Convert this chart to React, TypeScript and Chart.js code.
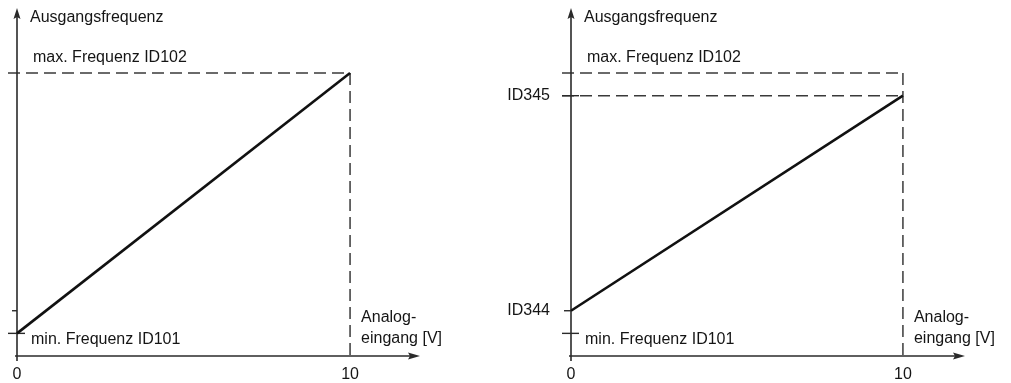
import React, { useEffect, useRef } from "react";
import { Chart, registerables } from "chart.js";

Chart.register(...registerables);

// ---- data ----
const inputTicks = [0, 10];
const inputTickLabels = ["0", "10"];
const inputEnd = 10;
const maxFreq = 50;
const minFreq = 4;
const id344 = 8;
const id345 = 46;
const leftInput = [0, 10];
const leftOutput = [4, 50];
const rightInput = [0, 10];
const rightOutput = [8, 46];
const yTitle = "Ausgangsfrequenz";
const xTitleLines = ["Analog-", "eingang [V]"];
const maxLabel = "max. Frequenz ID102";
const minLabel = "min. Frequenz ID101";
const id345Label = "ID345";
const id344Label = "ID344";

const FONT = "16px 'Liberation Sans', Arial, sans-serif";
const TEXT = "#151515";
const AXIS = "#2a2a2a";
const DASH = "#3a3a3a";

type Panel = {
  right: boolean;
  xs: number[];
  ys: number[];
};

function makePlugin(panel: Panel) {
  return {
    id: "diagram",
    beforeDatasetsDraw(chart: any) {
      const ctx = chart.ctx as CanvasRenderingContext2D;
      const xs = chart.scales.x;
      const ys = chart.scales.y;
      const ax = xs.getPixelForValue(0);
      const ay = ys.getPixelForValue(0);
      const top = chart.chartArea.top;
      const right = chart.chartArea.right;
      const x10 = xs.getPixelForValue(inputEnd);
      const pMax = ys.getPixelForValue(maxFreq);
      const pMin = ys.getPixelForValue(minFreq);
      const p344 = ys.getPixelForValue(id344);
      const p345 = ys.getPixelForValue(id345);

      ctx.save();
      // dashed guides
      ctx.strokeStyle = DASH;
      ctx.lineWidth = 1.5;
      ctx.setLineDash([12, 6]);
      const hline = (y: number) => {
        ctx.beginPath();
        ctx.moveTo(ax - 9, y);
        ctx.lineTo(x10, y);
        ctx.stroke();
      };
      hline(pMax);
      if (panel.right) hline(p345);
      ctx.beginPath();
      ctx.moveTo(x10, pMax);
      ctx.lineTo(x10, ay);
      ctx.stroke();
      ctx.setLineDash([]);

      // axes
      ctx.strokeStyle = AXIS;
      ctx.fillStyle = AXIS;
      ctx.lineWidth = 1.6;
      ctx.beginPath();
      ctx.moveTo(ax, ay + 5);
      ctx.lineTo(ax, top + 8);
      ctx.stroke();
      ctx.beginPath();
      ctx.moveTo(ax - 2, ay);
      ctx.lineTo(right - 8, ay);
      ctx.stroke();
      // arrows
      ctx.beginPath();
      ctx.moveTo(ax, top);
      ctx.lineTo(ax - 3.5, top + 11);
      ctx.lineTo(ax, top + 9);
      ctx.lineTo(ax + 3.5, top + 11);
      ctx.closePath();
      ctx.fill();
      ctx.beginPath();
      ctx.moveTo(right, ay);
      ctx.lineTo(right - 12, ay - 3.5);
      ctx.lineTo(right - 10, ay);
      ctx.lineTo(right - 12, ay + 3.5);
      ctx.closePath();
      ctx.fill();

      // y ticks
      ctx.lineWidth = 1.4;
      ctx.beginPath();
      ctx.moveTo(ax - 9, pMin);
      ctx.lineTo(ax + 8, pMin);
      ctx.stroke();
      ctx.beginPath();
      ctx.moveTo(panel.right ? ax - 7 : ax - 5, p344);
      ctx.lineTo(ax, p344);
      ctx.stroke();
      if (panel.right) {
        ctx.beginPath();
        ctx.moveTo(ax - 9, p345);
        ctx.lineTo(ax + 8, p345);
        ctx.stroke();
      }

      // texts
      ctx.font = FONT;
      ctx.fillStyle = TEXT;
      ctx.textBaseline = "middle";
      ctx.textAlign = "left";
      ctx.fillText(yTitle, ax + 13, top + 10);
      ctx.fillText(maxLabel, ax + 16, pMax - 15);
      ctx.fillText(minLabel, ax + 14, pMin + 6);
      ctx.fillText(xTitleLines[0], x10 + 11, ay - 38);
      ctx.fillText(xTitleLines[1], x10 + 11, ay - 17);
      if (panel.right) {
        ctx.textAlign = "right";
        ctx.fillText(id345Label, ax - 21, p345);
        ctx.fillText(id344Label, ax - 21, p344);
      }
      ctx.textAlign = "center";
      inputTicks.forEach((v, i) => {
        ctx.fillText(inputTickLabels[i], xs.getPixelForValue(v), ay + 19);
      });
      ctx.restore();
    },
  };
}

function DiagramChart({ panel, width, padLeft, padRight, xMax }: { panel: Panel; width: number; padLeft: number; padRight: number; xMax: number }) {
  const ref = useRef<HTMLCanvasElement | null>(null);
  useEffect(() => {
    if (!ref.current) return;
    const chart = new Chart(ref.current, {
      type: "line",
      data: {
        datasets: [
          {
            data: panel.xs.map((x, i) => ({ x, y: panel.ys[i] })),
            borderColor: "#111111",
            borderWidth: 2.6,
            pointRadius: 0,
            fill: false,
            clip: false as any,
          },
        ],
      },
      options: {
        responsive: false,
        animation: false,
        events: [],
        layout: { padding: { left: padLeft, right: padRight, top: 8, bottom: 27 } },
        plugins: { legend: { display: false }, tooltip: { enabled: false } },
        scales: {
          x: { type: "linear", display: false, min: 0, max: xMax },
          y: { type: "linear", display: false, min: 0, max: 61.5 },
        },
      },
      plugins: [makePlugin(panel)],
    });
    return () => chart.destroy();
  }, []);
  return <canvas ref={ref} width={width} height={383} style={{ display: "block" }} />;
}

export default function App() {
  return (
    <div style={{ position: "absolute", left: 0, top: 0, width: 1011, height: 383, background: "#fff", display: "flex" }}>
      <DiagramChart panel={{ right: false, xs: leftInput, ys: leftOutput }} width={490} padLeft={17} padRight={70} xMax={12.1} />
      <DiagramChart panel={{ right: true, xs: rightInput, ys: rightOutput }} width={521} padLeft={81} padRight={46} xMax={11.87} />
    </div>
  );
}
